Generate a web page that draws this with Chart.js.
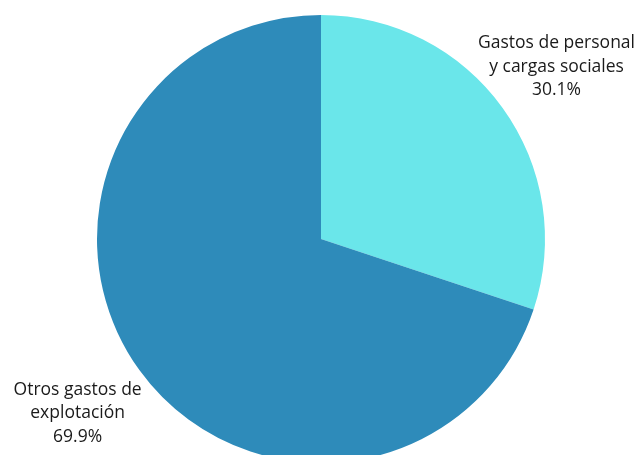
<!DOCTYPE html>
<html>
<head>
<meta charset="utf-8">
<script src="https://cdn.jsdelivr.net/npm/chart.js@4"></script>
<style>
  html, body { margin: 0; padding: 0; background: #fff; overflow: hidden; }
  #wrap { width: 640px; height: 480px; }
</style>
</head>
<body>
<div id="wrap"><canvas id="pieChart" width="640" height="480"></canvas></div>
<script>
const categories = [['Gastos de personal', 'y cargas sociales'], ['Otros gastos de', 'explotación']];
const shares = [30.1, 69.9];
const colors = ['#6ae6ea', '#2e8bba'];

// etiquetas fuera de cada sector, ajustadas al borde del lienzo
const outsideLabels = {
    id: 'outsideLabels',
    afterDatasetsDraw(chart) {
        const ctx = chart.ctx;
        const meta = chart.getDatasetMeta(0);
        ctx.save();
        ctx.font = '17.5px "Open Sans"';
        ctx.fillStyle = '#1a1a1a';
        ctx.textAlign = 'center';
        ctx.textBaseline = 'middle';
        meta.data.forEach((arc, i) => {
            const mid = (arc.startAngle + arc.endAngle) / 2;
            const lines = [...categories[i], shares[i].toFixed(1) + '%'];
            const w = Math.max(...lines.map(t => ctx.measureText(t).width));
            let x = arc.x + Math.cos(mid) * arc.outerRadius * 1.34;
            const y = arc.y + Math.sin(mid) * arc.outerRadius * 1.32;
            x = Math.min(Math.max(x, w / 2 + 5), chart.width - w / 2 - 5);
            const lh = 23.5;
            lines.forEach((t, k) => {
                ctx.fillText(t, x, y + 1 + (k - (lines.length - 1) / 2) * lh);
            });
        });
        ctx.restore();
    }
};

new Chart(document.getElementById('pieChart'), {
    type: 'pie',
    data: {
        labels: categories.map(c => c.join(' ')),
        datasets: [{
            data: shares,
            backgroundColor: colors,
            borderWidth: 0
        }]
    },
    options: {
        responsive: false,
        animation: false,
        layout: { padding: { top: 15, bottom: 17, left: 2 } },
        plugins: {
            legend: { display: false },
            tooltip: { enabled: false }
        }
    },
    plugins: [outsideLabels]
});
</script>
</body>
</html>
